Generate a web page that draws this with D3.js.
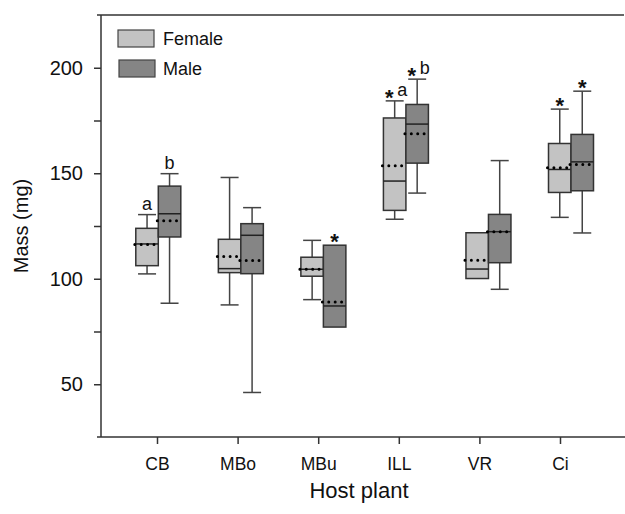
<!DOCTYPE html>
<html>
<head>
<meta charset="utf-8">
<script src="https://cdn.jsdelivr.net/npm/d3@7"></script>
<style>
  body { margin: 0; background: #fff; }
  text { font-family: "Liberation Sans", Arial, sans-serif; fill: #111; }
</style>
</head>
<body>
<script>
// host plants
var categories = ["CB", "MBo", "MBu", "ILL", "VR", "Ci"];

// female box stats (mg)
var femaleLow    = [102.3,  87.6,  90.1, 128.2, 100.1, 129.1];
var femaleQ1     = [106.2, 102.9, 101.2, 132.4, 100.1, 140.9];
var femaleMedian = [116.5, 104.8, 104.5, 146.3, 104.6, 151.8];
var femaleQ3     = [123.9, 118.7, 110.2, 176.2, 121.8, 164.1];
var femaleHigh   = [130.4, 148.0, 118.2, 184.3, 121.8, 180.4];
var femaleMean   = [116.2, 110.5, 104.5, 153.5, 108.8, 152.6];

// male box stats (mg)
var maleLow    = [ 88.4,  46.1,  77.1, 140.6,  95.0, 121.7];
var maleQ1     = [119.8, 102.4,  77.1, 154.8, 107.6, 141.7];
var maleMedian = [130.8, 120.6,  87.1, 173.3, 122.3, 155.4];
var maleQ3     = [143.9, 126.1, 115.9, 182.6, 130.5, 168.4];
var maleHigh   = [149.8, 133.7, 115.9, 194.6, 156.0, 188.9];
var maleMean   = [127.5, 108.7,  89.0, 168.7, 122.3, 154.2];

// significance marks above boxes
var femaleMarks = ["a", "", "", "*a", "", "*"];
var maleMarks   = ["b", "", "*", "*b", "", "*"];

var yMajor = [50, 100, 150, 200];
var yMinor = [75, 125, 175];

const width = 625, height = 514;
const plotLeft = 101, plotRight = 624, plotTop = 15, plotBottom = 437;

var svg = d3.select("body").append("svg")
    .attr("width", width)
    .attr("height", height);

var y = d3.scaleLinear().domain([25, 225]).range([plotBottom, plotTop]);
// tick positions and box-pair positions are spaced slightly differently in the original
var x = d3.scalePoint().domain(categories).range([157, 560]);
var xb = d3.scalePoint().domain(categories).range([158.3, 571]);

var boxW = 22.5, capW = 18;
var axisColor = "#333";

var series = [
  {name: "Female", fill: "#c3c3c3", off: -boxW / 2, low: femaleLow, q1: femaleQ1, med: femaleMedian, q3: femaleQ3, high: femaleHigh, mean: femaleMean, marks: femaleMarks},
  {name: "Male",   fill: "#858585", off:  boxW / 2, low: maleLow,   q1: maleQ1,   med: maleMedian,   q3: maleQ3,   high: maleHigh,   mean: maleMean,   marks: maleMarks}
];

// frame lines
svg.append("line").attr("x1", 97).attr("x2", plotRight).attr("y1", plotTop).attr("y2", plotTop)
    .attr("stroke", axisColor).attr("stroke-width", 1.5);

svg.append("g")
    .attr("transform", "translate(0," + plotBottom + ")")
    .call(d3.axisBottom(x).tickSize(7).tickSizeOuter(0))
    .call(function(g) {
      g.select(".domain").attr("d", "M97,0H" + width);
      g.selectAll("line, path").attr("stroke", axisColor).attr("stroke-width", 1.5);
      g.selectAll("text").attr("font-size", "17.5px").attr("dy", "0").attr("y", 33).attr("fill", "#111");
    });

svg.append("g")
    .attr("transform", "translate(" + plotLeft + ",0)")
    .call(d3.axisLeft(y).tickValues(yMajor).tickSize(7).tickSizeOuter(0))
    .call(function(g) {
      g.select(".domain").attr("d", "M0," + plotTop + "V" + plotBottom);
      g.selectAll("line, path").attr("stroke", axisColor).attr("stroke-width", 1.5);
      g.selectAll("text").attr("font-size", "20px").attr("x", -18).attr("fill", "#111");
    });

svg.append("g")
    .attr("transform", "translate(" + plotLeft + ",0)")
    .call(d3.axisLeft(y).tickValues(yMinor).tickSize(7).tickFormat(""))
    .call(function(g) {
      g.select(".domain").remove();
      g.selectAll("line").attr("stroke", axisColor).attr("stroke-width", 1.5);
    });

// boxes
series.forEach(function(s) {
  var g = svg.append("g");
  var cx = function(i) { return xb(categories[i]) + s.off; };
  var idx = d3.range(categories.length);

  // whiskers
  g.selectAll(".wu").data(idx).enter().append("line")
    .attr("x1", cx).attr("x2", cx)
    .attr("y1", function(i) { return y(s.high[i]); })
    .attr("y2", function(i) { return y(s.q3[i]); })
    .attr("stroke", "#444").attr("stroke-width", 1.5);
  g.selectAll(".wl").data(idx).enter().append("line")
    .attr("x1", cx).attr("x2", cx)
    .attr("y1", function(i) { return y(s.q1[i]); })
    .attr("y2", function(i) { return y(s.low[i]); })
    .attr("stroke", "#444").attr("stroke-width", 1.5);
  [s.high, s.low].forEach(function(arr, k) {
    g.selectAll(".cap" + k).data(idx.filter(function(i) { return arr[i] !== (k ? s.q1[i] : s.q3[i]); }))
      .enter().append("line")
      .attr("x1", function(i) { return cx(i) - capW / 2; })
      .attr("x2", function(i) { return cx(i) + capW / 2; })
      .attr("y1", function(i) { return y(arr[i]); })
      .attr("y2", function(i) { return y(arr[i]); })
      .attr("stroke", "#444").attr("stroke-width", 1.5);
  });

  g.selectAll("rect").data(idx).enter().append("rect")
    .attr("x", function(i) { return cx(i) - boxW / 2; })
    .attr("width", boxW)
    .attr("y", function(i) { return y(s.q3[i]); })
    .attr("height", function(i) { return y(s.q1[i]) - y(s.q3[i]); })
    .attr("fill", s.fill).attr("stroke", "#333").attr("stroke-width", 1.5);

  g.selectAll(".med").data(idx).enter().append("line")
    .attr("x1", function(i) { return cx(i) - boxW / 2; })
    .attr("x2", function(i) { return cx(i) + boxW / 2; })
    .attr("y1", function(i) { return y(s.med[i]); })
    .attr("y2", function(i) { return y(s.med[i]); })
    .attr("stroke", "#222").attr("stroke-width", 1.5);

  g.selectAll(".mean").data(idx).enter().append("line")
    .attr("x1", function(i) { return cx(i) - boxW / 2 - 1; })
    .attr("x2", function(i) { return cx(i) + boxW / 2 + 1; })
    .attr("y1", function(i) { return y(s.mean[i]); })
    .attr("y2", function(i) { return y(s.mean[i]); })
    .attr("stroke", "#000").attr("stroke-width", 3)
    .attr("stroke-linecap", "round").attr("stroke-dasharray", "0,6.4");

  // marks
  idx.forEach(function(i) {
    var m = s.marks[i];
    if (!m) return;
    var c = cx(i);
    var t = y(s.high[i]);
    var star = m.indexOf("*") >= 0;
    var letter = m.replace("*", "");
    if (star) {
      g.append("text").attr("x", letter ? c - 5.5 : c).attr("y", t + 4)
        .attr("text-anchor", "middle").attr("font-size", "22px").attr("font-weight", "bold").text("*");
    }
    if (letter) {
      g.append("text").attr("x", star ? c + 7.5 : c).attr("y", t - 5)
        .attr("text-anchor", "middle").attr("font-size", "18px").text(letter);
    }
  });
});

// legend
var legend = svg.append("g");
series.forEach(function(s, i) {
  legend.append("rect").attr("x", 118 + i).attr("y", 30 + i * 30).attr("width", 36).attr("height", 17)
    .attr("fill", s.fill).attr("stroke", "#444").attr("stroke-width", 1.2);
  legend.append("text").attr("x", 163).attr("y", 45 + i * 30).attr("font-size", "18px").text(s.name);
});

// axis titles
svg.append("text").attr("x", 359).attr("y", 498).attr("text-anchor", "middle")
  .attr("font-size", "22px").text("Host plant");
svg.append("text").attr("transform", "translate(28,226) rotate(-90)").attr("text-anchor", "middle")
  .attr("font-size", "20px").text("Mass (mg)");
</script>
</body>
</html>
